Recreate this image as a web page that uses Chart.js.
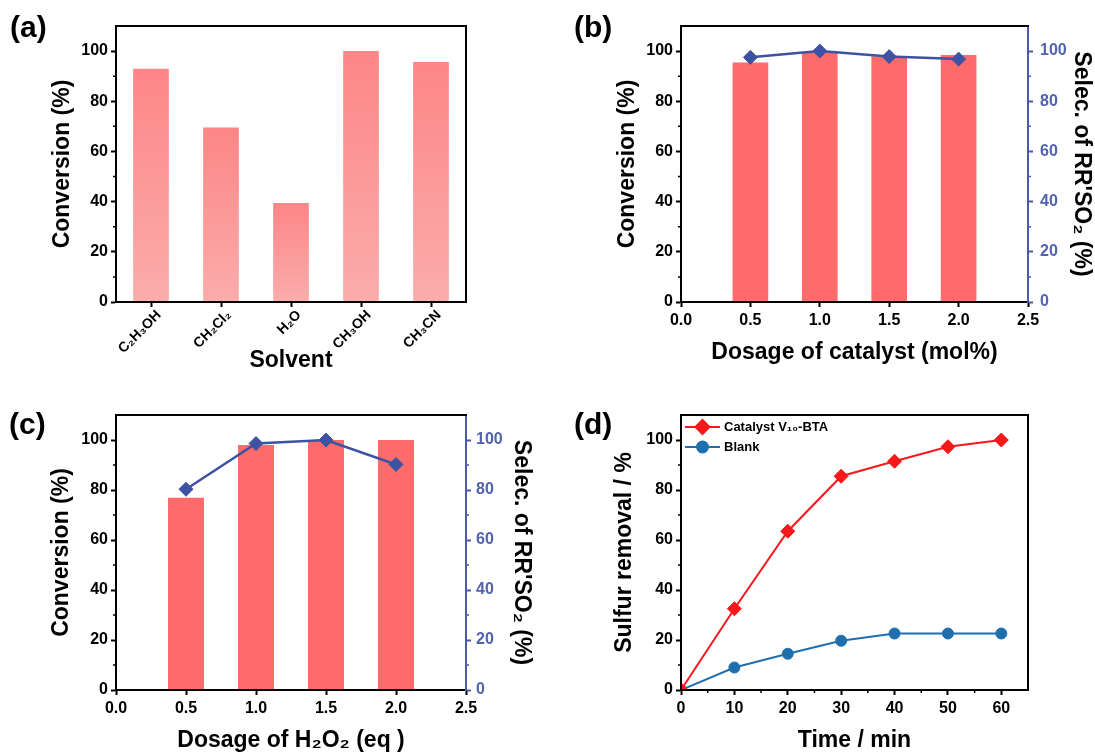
<!DOCTYPE html>
<html>
<head>
<meta charset="utf-8">
<script src="https://cdn.jsdelivr.net/npm/chart.js"></script>
<style>
  body { margin: 0; background: #fff; width: 1095px; height: 754px; position: relative; overflow: hidden; font-family: "Liberation Sans", Arial, sans-serif; }
  .panel { position: absolute; }
  .tag { position: absolute; font-weight: bold; font-size: 30px; line-height: 30px; color: #000; }
</style>
</head>
<body>
<div class="panel" style="left:0;top:0;width:550px;height:380px"><canvas id="chartA" width="550" height="380"></canvas></div>
<div class="panel" style="left:550px;top:0;width:545px;height:380px"><canvas id="chartB" width="545" height="380"></canvas></div>
<div class="panel" style="left:0;top:380px;width:550px;height:374px"><canvas id="chartC" width="550" height="374"></canvas></div>
<div class="panel" style="left:550px;top:380px;width:545px;height:374px"><canvas id="chartD" width="545" height="374"></canvas></div>
<div class="tag" style="left:10px;top:12px">(a)</div>
<div class="tag" style="left:574px;top:12px">(b)</div>
<div class="tag" style="left:9px;top:409px">(c)</div>
<div class="tag" style="left:574px;top:409px">(d)</div>

<script>
// (a) solvent screening
const solvents = ["C₂H₃OH", "CH₂Cl₂", "H₂O", "CH₃OH", "CH₃CN"];
const solventConversion = [93, 69.5, 39.5, 100, 95.7];

// (b) catalyst dosage
const catalystDosage = [0.5, 1.0, 1.5, 2.0];
const catalystConversion = [95.5, 99.7, 97.9, 98.4];
const catalystSelectivity = [97.5, 100, 97.8, 96.8];

// (c) H2O2 dosage
const h2o2Dosage = [0.5, 1.0, 1.5, 2.0];
const h2o2Conversion = [76.9, 98, 100, 100];
const h2o2Selectivity = [80.3, 98.6, 100, 90.2];

// (d) kinetics
const timeMin = [0, 10, 20, 30, 40, 50, 60];
const removalCatalyst = [0, 32.5, 63.5, 85.5, 91.5, 97.3, 100];
const removalBlank = [0, 9, 14.5, 19.7, 22.6, 22.6, 22.6];

// tick values
const percentTicks = [0, 20, 40, 60, 80, 100];
const percentMinor = [10, 30, 50, 70, 90];
const dosageTicks = [0, 0.5, 1.0, 1.5, 2.0, 2.5];
const timeTicks = [0, 10, 20, 30, 40, 50, 60];
const timeMinor = [5, 15, 25, 35, 45, 55];

const FONT = "'Liberation Sans', Arial, sans-serif";
const BLUE_AX = "#4a5bab";
const BLUE_LINE = "#3e52a3";
const BAR_RED = "#fd6b6b";

Chart.defaults.font.family = FONT;
Chart.defaults.color = "#000";

function useTicks(values) {
  return (scale) => { scale.ticks = values.map((v) => ({ value: v })); };
}

function fixWidth(w) { return (scale) => { scale.width = w; }; }
function fixHeight(h) { return (scale) => { scale.height = h; }; }

function valueAxis(opts) {
  const color = opts.color || "#000";
  return {
    type: "linear",
    position: opts.position || "left",
    min: opts.min, max: opts.max,
    bounds: "data",
    offset: false,
    afterBuildTicks: useTicks(opts.ticks),
    afterFit: opts.fit,
    grid: { display: true, drawOnChartArea: false, drawTicks: true, tickLength: 5, tickWidth: 2, tickColor: color, offset: false },
    border: { display: true, color: color, width: 2, z: 1 },
    ticks: {
      color: opts.tickColor || color,
      padding: opts.tickPad == null ? 3 : opts.tickPad,
      font: { size: 16, weight: "bold", family: FONT },
      maxRotation: 0,
      autoSkip: false,
      callback: opts.format || ((v) => v),
    },
    title: opts.title ? {
      display: true, text: opts.title, color: "#000",
      font: { size: 23, weight: "bold", family: FONT },
      padding: opts.titlePad,
    } : { display: false },
  };
}

// frame lines + minor ticks
const framePlugin = {
  id: "frame",
  afterDraw(chart, args, o) {
    const { ctx, chartArea: a } = chart;
    ctx.save();
    ctx.lineWidth = 2;
    ctx.strokeStyle = "#000";
    ctx.beginPath();
    ctx.moveTo(a.left - 1, a.top);
    ctx.lineTo(a.right + 1, a.top);
    if (o.right) {
      ctx.moveTo(a.right, a.top);
      ctx.lineTo(a.right, a.bottom);
    }
    ctx.stroke();
    (o.minor || []).forEach((m) => {
      const s = chart.scales[m.axis];
      ctx.strokeStyle = m.color || "#000";
      ctx.lineWidth = 1.5;
      ctx.beginPath();
      m.values.forEach((v) => {
        const p = s.getPixelForValue(v);
        if (s.position === "left") { ctx.moveTo(a.left, p); ctx.lineTo(a.left - 3, p); }
        else if (s.position === "right") { ctx.moveTo(a.right, p); ctx.lineTo(a.right + 3, p); }
        else { ctx.moveTo(p, a.bottom); ctx.lineTo(p, a.bottom + 3); }
      });
      ctx.stroke();
    });
    ctx.restore();
  },
};

// legend drawn inside the plot, line + marker sample
const insideLegend = {
  id: "insideLegend",
  afterDraw(chart) {
    const { ctx, chartArea: a } = chart;
    chart.data.datasets.forEach((ds, i) => {
      const y = a.top + 12 + i * 20;
      const x0 = a.left + 4, x1 = a.left + 39;
      ctx.save();
      ctx.strokeStyle = ds.borderColor;
      ctx.lineWidth = ds.borderWidth;
      ctx.beginPath();
      ctx.moveTo(x0, y);
      ctx.lineTo(x1, y);
      ctx.stroke();
      ctx.fillStyle = ds.pointBackgroundColor;
      ctx.strokeStyle = ds.pointBorderColor;
      Chart.helpers.drawPoint(ctx, { pointStyle: ds.pointStyle, radius: ds.pointRadius, rotation: 0, borderWidth: 1 }, (x0 + x1) / 2, y);
      ctx.fillStyle = "#000";
      ctx.font = "bold 13px " + FONT;
      ctx.textBaseline = "middle";
      ctx.fillText(ds.label, x1 + 4, y);
      ctx.restore();
    });
  },
};

function barGradient(c) {
  const chart = c.chart;
  const area = chart.chartArea;
  if (!area || c.type !== "data") return "#fc9090";
  const top = chart.scales.y.getPixelForValue(c.parsed.y);
  const g = chart.ctx.createLinearGradient(0, top, 0, area.bottom);
  g.addColorStop(0, "#fd8686");
  g.addColorStop(1, "#fbacac");
  return g;
}

const common = {
  responsive: false,
  animation: false,
  devicePixelRatio: 1,
  plugins: { legend: { display: false }, tooltip: { enabled: false } },
};

// ---------- (a)
new Chart(document.getElementById("chartA"), {
  type: "bar",
  data: {
    labels: solvents,
    datasets: [{ data: solventConversion, backgroundColor: barGradient, borderWidth: 0, categoryPercentage: 1, barPercentage: 0.51 }],
  },
  options: {
    ...common,
    layout: { padding: { left: 0, top: 26, right: 84, bottom: 0 } },
    plugins: { ...common.plugins, frame: { right: true, minor: [{ axis: "y", values: percentMinor }] } },
    scales: {
      x: {
        type: "category",
        offset: true,
        afterFit: fixHeight(78),
        grid: { display: true, drawOnChartArea: false, drawTicks: true, tickLength: 5, tickWidth: 2, tickColor: "#000", offset: false },
        border: { display: true, color: "#000", width: 2, z: 1 },
        ticks: { font: { size: 14, weight: "bold", family: FONT }, minRotation: 45, maxRotation: 45, padding: 0, labelOffset: 8, autoSkip: false },
        title: { display: true, text: "Solvent", font: { size: 23, weight: "bold", family: FONT }, padding: { top: 0, bottom: 6 } },
      },
      y: valueAxis({ min: 0, max: 110, ticks: percentTicks, fit: fixWidth(116), title: "Conversion (%)", titlePad: { top: 49, bottom: 0 } }),
    },
  },
  plugins: [framePlugin],
});

// ---------- (b) and (c): bars + selectivity line on a right axis
function dosageChart(id, dosage, conversion, selectivity, o) {
  return new Chart(document.getElementById(id), {
    type: "bar",
    data: {
      datasets: [
        {
          type: "line", yAxisID: "y2", order: 0,
          data: dosage.map((x, i) => ({ x, y: selectivity[i] })),
          borderColor: BLUE_LINE, borderWidth: 2.5,
          pointStyle: "rectRot", pointRadius: 7, pointBackgroundColor: BLUE_LINE, pointBorderColor: BLUE_LINE, pointBorderWidth: 1,
        },
        {
          type: "bar", yAxisID: "y", order: 1,
          data: dosage.map((x, i) => ({ x, y: conversion[i] })),
          backgroundColor: BAR_RED, borderWidth: 0, categoryPercentage: 1, barPercentage: 0.514,
        },
      ],
    },
    options: {
      ...common,
      layout: { padding: { left: 0, top: o.top, right: 0, bottom: 0 } },
      plugins: { ...common.plugins, frame: { right: false, minor: [{ axis: "y", values: percentMinor }, { axis: "y2", values: percentMinor, color: BLUE_AX }] } },
      scales: {
        x: {
          ...valueAxis({ position: "bottom", min: 0, max: 2.5, ticks: dosageTicks, fit: fixHeight(o.xh), format: (v) => v.toFixed(1), tickPad: 4, title: o.xTitle, titlePad: { top: 0, bottom: o.xTitlePad } }),
        },
        y: valueAxis({ min: 0, max: 110, ticks: percentTicks, fit: fixWidth(o.left), title: "Conversion (%)", titlePad: { top: o.yTitlePad, bottom: 0 } }),
        y2: valueAxis({ position: "right", min: 0, max: 110, ticks: percentTicks, fit: fixWidth(o.right), color: BLUE_AX, tickColor: "#5163b0", tickPad: o.rTickPad, title: "Selec. of RR'SO₂ (%)", titlePad: { top: o.rTitlePad, bottom: 0 } }),
      },
    },
    plugins: [framePlugin],
  });
}

dosageChart("chartB", catalystDosage, catalystConversion, catalystSelectivity, {
  top: 26, xh: 78, left: 131, right: 67, yTitlePad: 64, rTitlePad: 0, rTickPad: 7, xTitle: "Dosage of catalyst (mol%)", xTitlePad: 14,
});
dosageChart("chartC", h2o2Dosage, h2o2Conversion, h2o2Selectivity, {
  top: 35, xh: 64, left: 116, right: 84, yTitlePad: 47.5, rTitlePad: 15, rTickPad: 5, xTitle: "Dosage of H₂O₂ (eq )", xTitlePad: 0,
});

// ---------- (d)
new Chart(document.getElementById("chartD"), {
  type: "line",
  data: {
    datasets: [
      {
        label: "Catalyst V₁₀-BTA",
        data: timeMin.map((x, i) => ({ x, y: removalCatalyst[i] })),
        borderColor: "#f5191b", borderWidth: 2,
        pointStyle: "rectRot", pointRadius: 7, pointBackgroundColor: "#f5191b", pointBorderColor: "#f5191b", pointBorderWidth: 1,
      },
      {
        label: "Blank",
        data: timeMin.map((x, i) => ({ x, y: removalBlank[i] })),
        borderColor: "#1f6fae", borderWidth: 2,
        pointStyle: "circle", pointRadius: 5.5, pointBackgroundColor: "#1f6fae", pointBorderColor: "#1f6fae", pointBorderWidth: 1,
      },
    ],
  },
  options: {
    ...common,
    layout: { padding: { left: 0, top: 35, right: 67, bottom: 0 } },
    plugins: { ...common.plugins, frame: { right: true, minor: [{ axis: "y", values: percentMinor }, { axis: "x", values: timeMinor }] } },
    scales: {
      x: valueAxis({ position: "bottom", min: 0, max: 65, ticks: timeTicks, fit: fixHeight(64), tickPad: 4, title: "Time / min", titlePad: { top: 0, bottom: 0 } }),
      y: valueAxis({ min: 0, max: 110, ticks: percentTicks, fit: fixWidth(131), title: "Sulfur removal / %", titlePad: { top: 61, bottom: 0 } }),
    },
  },
  plugins: [framePlugin, insideLegend],
});
</script>
</body>
</html>
